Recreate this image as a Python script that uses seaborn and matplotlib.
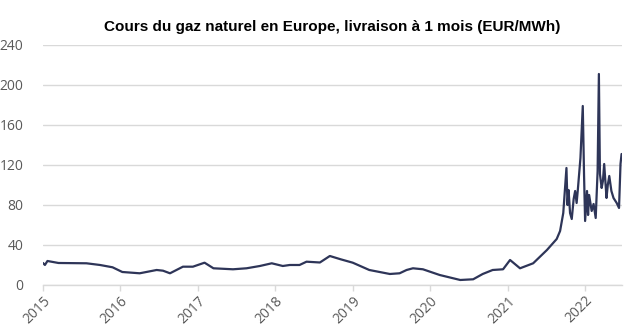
import matplotlib
matplotlib.use("Agg")
import matplotlib.pyplot as plt
import seaborn as sns
import pandas as pd

dates = [
    "2015-01-01", "2015-01-10", "2015-01-22", "2015-03-15", "2015-07-25", "2015-09-27",
    "2015-11-25", "2016-01-10", "2016-04-01", "2016-06-20", "2016-07-20", "2016-08-22",
    "2016-10-22", "2016-12-08", "2017-02-01", "2017-03-15", "2017-06-15", "2017-08-18",
    "2017-10-20", "2017-12-15", "2018-02-05", "2018-03-10", "2018-04-25", "2018-05-28",
    "2018-07-30", "2018-09-15", "2018-11-05", "2019-01-01", "2019-03-20", "2019-06-25",
    "2019-08-10", "2019-09-12", "2019-10-12", "2019-11-28", "2020-02-15", "2020-05-22",
    "2020-07-22", "2020-09-05", "2020-10-22", "2020-12-10", "2021-01-12", "2021-02-28",
    "2021-05-01", "2021-07-05", "2021-08-20", "2021-09-05", "2021-09-20", "2021-10-05",
    "2021-10-10", "2021-10-15", "2021-10-22", "2021-10-30", "2021-11-08", "2021-11-15",
    "2021-11-22", "2021-11-28", "2021-12-10", "2021-12-21", "2021-12-27",
    "2022-01-01", "2022-01-10", "2022-01-15", "2022-01-20", "2022-02-01", "2022-02-10",
    "2022-02-20", "2022-03-01", "2022-03-07", "2022-03-12", "2022-03-20", "2022-03-26",
    "2022-04-01", "2022-04-12", "2022-04-18", "2022-04-25", "2022-05-05", "2022-05-15",
    "2022-05-30", "2022-06-10", "2022-06-17", "2022-06-22",
]
prices = [
    22, 20, 24, 22, 21.7, 20,
    17.7, 13, 11.7, 15, 14.3, 11.7,
    18.3, 18.3, 22.3, 16.7, 15.7, 16.7,
    19, 21.7, 19, 20, 20, 23.3,
    22.5, 29, 25.7, 22.3, 15, 11,
    11.7, 15, 16.7, 15.7, 10, 5,
    5.7, 11, 15, 15.7, 25, 16.7,
    21.7, 35, 46, 54, 72, 117,
    80, 95, 72, 66, 86, 94,
    82, 96, 127, 179, 110,
    64, 94, 70, 90, 74, 81,
    67, 114, 211, 111, 97, 104,
    121, 87, 100, 109, 94, 87,
    82, 77, 121, 131,
]
year_ticks = ["2015", "2016", "2017", "2018", "2019", "2020", "2021", "2022"]
y_ticks = [0, 40, 80, 120, 160, 200, 240]
title = "Cours du gaz naturel en Europe, livraison à 1 mois (EUR/MWh)"

df = pd.DataFrame({"date": pd.to_datetime(dates), "price": prices})

sns.set_style("white")
plt.rcParams["font.family"] = ["Open Sans", "DejaVu Sans"]

fig = plt.figure(figsize=(6.26, 3.26), dpi=100)
ax = fig.add_axes([0.0687, 0.1258, 0.9249, 0.7362])

sns.lineplot(data=df, x="date", y="price", ax=ax, color="#2E3558", linewidth=1.6)

ax.set_ylim(0, 240)
ax.set_yticks(y_ticks)
ax.set_xlim(pd.Timestamp("2015-01-01"), pd.Timestamp("2022-06-24"))
ax.set_xticks([pd.Timestamp(f"{y}-01-01") for y in year_ticks])
ax.set_xticklabels(year_ticks, rotation=45, ha="right", rotation_mode="anchor")
ax.set_xlabel("")
ax.set_ylabel("")

ax.grid(axis="y", color="#D9D9D9", linewidth=1)
ax.set_axisbelow(True)
for s in ["top", "right", "left"]:
    ax.spines[s].set_visible(False)
ax.spines["bottom"].set_color("#D9D9D9")
ax.spines["bottom"].set_linewidth(1)

ax.tick_params(axis="x", colors="#595959", labelsize=10, length=4, width=1,
               color="#D9D9D9", pad=2, bottom=True)
ax.tick_params(axis="y", colors="#595959", labelsize=10, length=0, pad=14)

ax.set_title(title, fontsize=11, fontweight="bold", family=["Liberation Sans", "DejaVu Sans"],
             color="black", pad=10)

fig.savefig("out.png", dpi=100)
